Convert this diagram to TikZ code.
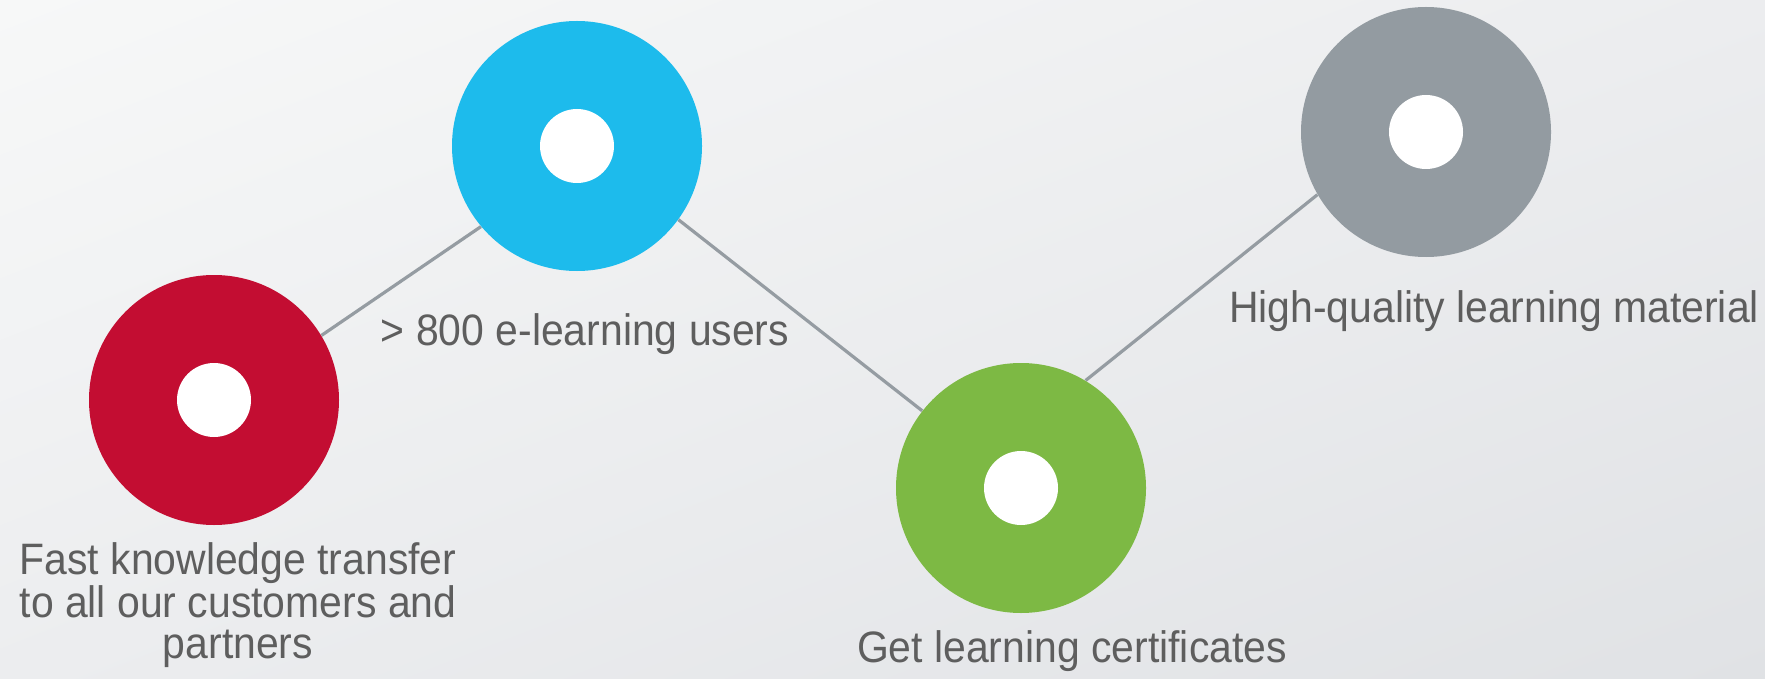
\documentclass[tikz,border=0pt]{standalone}
\usepackage{fontspec}
\setmainfont{Liberation Sans}
\newfontfamily\lblfont[FakeStretch=0.93]{Liberation Sans}
\usetikzlibrary{shadings}
\pgfdeclarelayer{bg}
\pgfdeclarelayer{lines}
\pgfsetlayers{bg,lines,main}
\definecolor{cred}{HTML}{C30D32}
\definecolor{cblue}{HTML}{1DBBEC}
\definecolor{cgreen}{HTML}{7DB944}
\definecolor{cgray}{HTML}{939BA1}
\definecolor{cline}{HTML}{959CA2}
\definecolor{ctext}{HTML}{5E5E5E}
\definecolor{bgA}{HTML}{F7F8F8}
\definecolor{bgM}{HTML}{ECEDEF}
\definecolor{bgB}{HTML}{E0E2E5}
\begin{document}
\begin{tikzpicture}[x=0.5pt,y=-0.5pt,
  ring/.style={circle,fill=#1,minimum size=125pt,inner sep=0pt,draw=none},
  dot/.style={circle,fill=white,minimum size=37pt,inner sep=0pt,draw=none},
  link/.style={draw=cline,line width=1.6pt},
  label/.style={anchor=base,align=center,text=ctext,inner sep=0pt,
    font=\lblfont\fontsize{22}{20.25}\selectfont}]
\begin{pgfonlayer}{bg}
\shade[upper left=bgA,lower right=bgB,upper right=bgM,lower left=bgM] (0,0) rectangle (1765,679);
\end{pgfonlayer}
\useasboundingbox (0,0) rectangle (1765,679);
\node[ring=cred] (a) at (214,400) {};
\node[ring=cblue] (b) at (577,146) {};
\node[ring=cgreen] (c) at (1021,488) {};
\node[ring=cgray] (d) at (1426,132) {};
\node[dot] (a0) at (a.center) {};
\node[dot] (b0) at (b.center) {};
\node[dot] (c0) at (c.center) {};
\node[dot] (d0) at (d.center) {};
\begin{pgfonlayer}{lines}
\draw[link] (a.31.8) -- (b.220.5);
\draw[link] (b.-36.5) -- (c.142.5);
\draw[link] (c.59) -- (d.210.3);
\end{pgfonlayer}
\node[label] (ta) at (238,658) {Fast knowledge transfer\\to all our customers and\\partners};
\node[label] (tb) at (585,345) {> 800 e-learning users};
\node[label] (tc) at (1072,662) {Get learning certificates};
\node[label] (td) at (1494,322) {High-quality learning material};
\end{tikzpicture}
\end{document}
